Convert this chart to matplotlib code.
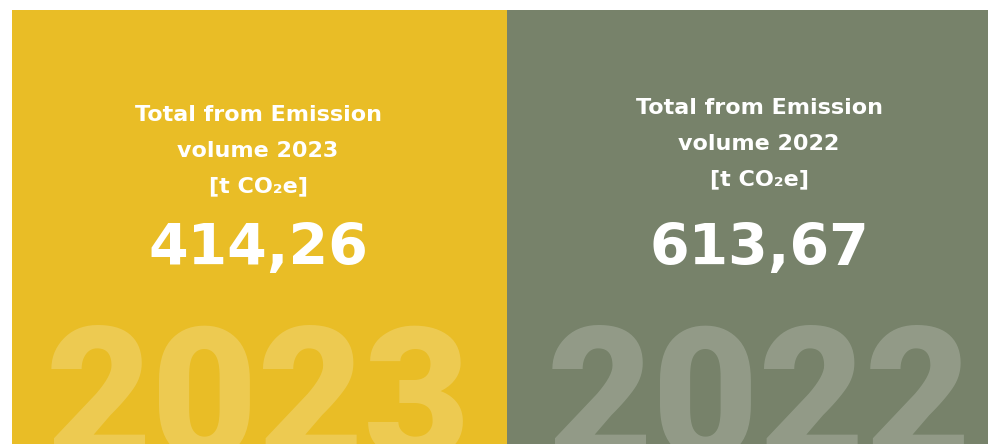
import matplotlib
matplotlib.use("Agg")
import matplotlib.pyplot as plt
from matplotlib.patches import Rectangle

years = ["2023", "2022"]
values = ["414,26", "613,67"]
titles = ["Total from Emission\nvolume 2023\n[t CO₂e]", "Total from Emission\nvolume 2022\n[t CO₂e]"]
panel_colors = ["#E9BD26", "#77826A"]

W, H = 988, 444
fig = plt.figure(figsize=(W / 100, H / 100), dpi=100)
ax = fig.add_axes([0, 0, 1, 1])
ax.set_xlim(0, W)
ax.set_ylim(H, 0)
ax.axis("off")

panels = [(12, 507), (507, 988)]
title_y = [115, 108]
for i, ((x0, x1), c) in enumerate(zip(panels, panel_colors)):
    ax.add_patch(Rectangle((x0, 10), x1 - x0, H - 10, facecolor=c, edgecolor="none"))
    cx = [258, 759][i]
    # big watermark year (top of digits near y=325)
    ax.text(cx, 458, years[i], ha="center", va="baseline", fontsize=132,
            fontweight=900, family="Roboto", color="white", alpha=0.2,
            clip_on=True)
    # title lines
    for j, line in enumerate(titles[i].split("\n")):
        ax.text(cx, title_y[i] + j * 35.5, line, ha="center", va="center",
                fontsize=16.0, fontweight="bold", family="DejaVu Sans", color="white")
    ax.text(cx, 249, values[i], ha="center", va="center", fontsize=41,
            fontweight="heavy", family="DejaVu Sans", color="white")

fig.savefig("out.png", dpi=100)
